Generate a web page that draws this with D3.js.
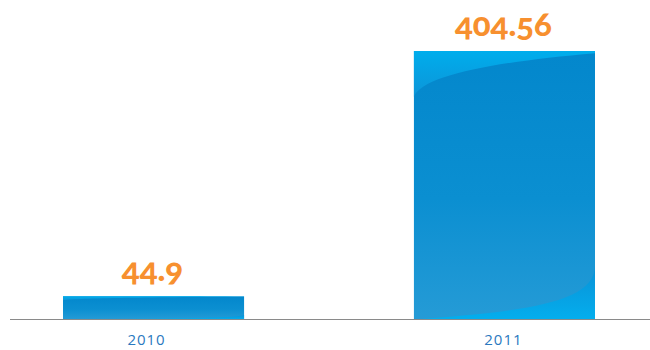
<!DOCTYPE html>
<html>
<head>
<meta charset="utf-8">
<script src="https://cdn.jsdelivr.net/npm/d3@7"></script>
<style>
  body { margin: 0; background: #fff; }
  .value { font-family: Lato, "Open Sans", sans-serif; font-weight: 900; fill: #f7902f; font-feature-settings: "onum"; }
  .year { font-family: "Open Sans", sans-serif; fill: #2a79c0; letter-spacing: 1px; }
</style>
</head>
<body>
<svg width="650" height="350"></svg>
<script>
"use strict";
const years = ["2010", "2011"];
const values = [44.9, 404.56];
const labels = ["44.9", "404.56"];

const svg = d3.select("svg");
const baseY = 319.5;

// bars sit on a baseline that does not start at zero in the original
const x = d3.scaleBand().domain(years).range([63, 595]).paddingInner(0.484).paddingOuter(0);
const y = d3.scaleLinear().domain([11, 404.56]).range([baseY, 51]);

const defs = svg.append("defs");

const body = defs.append("linearGradient").attr("id", "body").attr("x1", 0).attr("y1", 0).attr("x2", 0).attr("y2", 1);
body.append("stop").attr("offset", "0%").attr("stop-color", "#0387cc");
body.append("stop").attr("offset", "55%").attr("stop-color", "#0b8fd1");
body.append("stop").attr("offset", "100%").attr("stop-color", "#259bd6");

const topGlow = defs.append("linearGradient").attr("id", "topGlow").attr("x1", 0).attr("y1", 0).attr("x2", 0).attr("y2", 1);
topGlow.append("stop").attr("offset", "0%").attr("stop-color", "#00adec");
topGlow.append("stop").attr("offset", "100%").attr("stop-color", "#0c95d8");

const botGlow = defs.append("linearGradient").attr("id", "botGlow").attr("x1", 0).attr("y1", 0).attr("x2", 0).attr("y2", 1);
botGlow.append("stop").attr("offset", "0%").attr("stop-color", "#0890d6");
botGlow.append("stop").attr("offset", "100%").attr("stop-color", "#00b0f0");

const g = svg.append("g");

years.forEach((yr, i) => {
  const x0 = x(yr), w = x.bandwidth();
  const y0 = y(values[i]), h = baseY - y0;

  g.append("rect")
    .attr("x", x0).attr("y", y0).attr("width", w).attr("height", h)
    .attr("fill", "url(#body)");

  // light curved region at the top left
  const t = d3.path();
  t.moveTo(x0, y0);
  t.lineTo(x0 + w, y0);
  t.lineTo(x0 + w, y0 + h * 0.008);
  t.bezierCurveTo(x0 + w * 0.45, y0 + h * 0.04, x0 + w * 0.05, y0 + h * 0.09, x0, y0 + h * 0.17);
  t.closePath();
  g.append("path").attr("d", t.toString()).attr("fill", "url(#topGlow)");

  // light curved region at the bottom
  const b = d3.path();
  b.moveTo(x0, baseY);
  b.lineTo(x0 + w, baseY);
  b.lineTo(x0 + w, baseY - h * 0.2);
  b.bezierCurveTo(x0 + w, baseY - h * 0.06, x0 + w * 0.6, baseY - h * 0.03, x0, baseY);
  b.closePath();
  g.append("path").attr("d", b.toString()).attr("fill", "url(#botGlow)").attr("opacity", 0.9);

  svg.append("text")
    .attr("class", "value")
    .attr("x", x0 + w / 2 - 1)
    .attr("y", y0 - 15)
    .attr("text-anchor", "middle")
    .attr("font-size", 33)
    .text(labels[i]);
});

// baseline
svg.append("line")
  .attr("x1", 10).attr("x2", 650)
  .attr("y1", baseY).attr("y2", baseY)
  .attr("stroke", "#8a8a8a").attr("stroke-width", 1);

const xAxis = svg.append("g");
xAxis.selectAll("text")
  .data(years)
  .join("text")
  .attr("class", "year")
  .attr("x", (d, i) => x(d) + x.bandwidth() / 2 - (i === 0 ? 7 : 1))
  .attr("y", 345)
  .attr("text-anchor", "middle")
  .attr("font-size", 15)
  .text(d => d);
</script>
</body>
</html>
